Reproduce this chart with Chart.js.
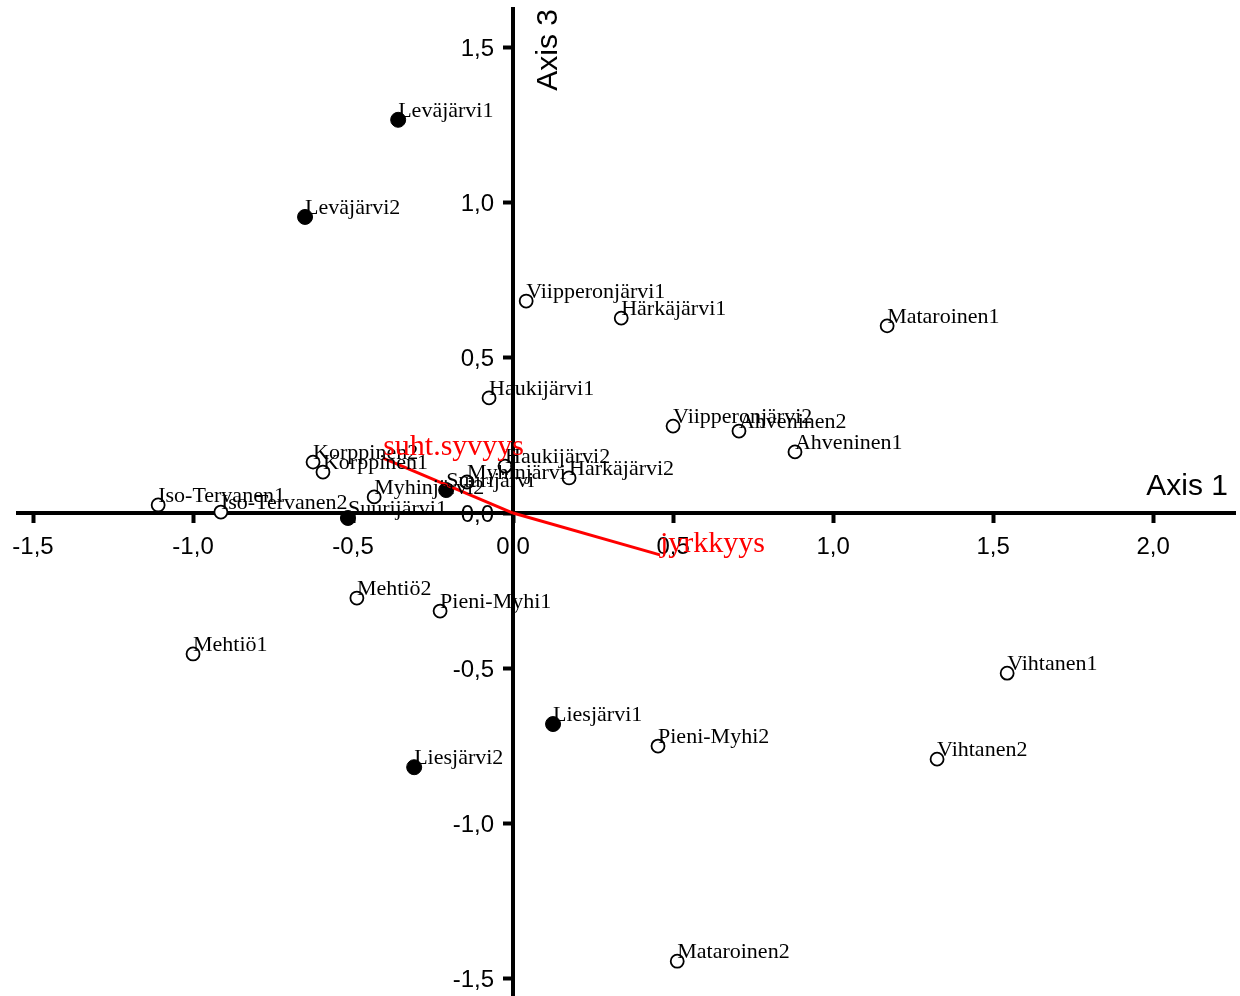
<!DOCTYPE html>
<html>
<head>
<meta charset="utf-8">
<script src="https://cdn.jsdelivr.net/npm/chart.js@4.4.1/dist/chart.umd.min.js"></script>
<style>
  html, body { margin: 0; padding: 0; background: #fff; overflow: hidden; }
  #ordination { display: block; width: 1240px; height: 996px; }
</style>
</head>
<body>
<canvas id="ordination" width="1240" height="996"></canvas>
<script>
// site scores, open symbols
const openSites = ["Viipperonjärvi1", "Härkäjärvi1", "Mataroinen1", "Haukijärvi1", "Viipperonjärvi2",
  "Ahveninen2", "Ahveninen1", "Korppinen2", "Korppinen1", "Haukijärvi2", "Myhinjärvi", "Härkäjärvi2",
  "Myhinjärvi2", "Iso-Tervanen1", "Iso-Tervanen2", "Mehtiö2", "Pieni-Myhi1", "Mehtiö1", "Vihtanen1",
  "Pieni-Myhi2", "Vihtanen2", "Mataroinen2"];
const openAxis1 = [0.041, 0.338, 1.169, -0.075, 0.500, 0.706, 0.881, -0.625, -0.594, -0.025, -0.144, 0.175,
  -0.434, -1.109, -0.913, -0.488, -0.228, -1.000, 1.544, 0.453, 1.325, 0.513];
const openAxis3 = [0.683, 0.628, 0.603, 0.371, 0.280, 0.264, 0.197, 0.164, 0.132, 0.151, 0.100, 0.113,
  0.052, 0.026, 0.003, -0.274, -0.316, -0.454, -0.516, -0.751, -0.793, -1.444];

// site scores, filled symbols
const filledSites = ["Leväjärvi1", "Leväjärvi2", "Suurijärvi", "Suurijärvi1", "Liesjärvi1", "Liesjärvi2"];
const filledAxis1 = [-0.359, -0.650, -0.209, -0.516, 0.125, -0.309];
const filledAxis3 = [1.267, 0.954, 0.074, -0.016, -0.680, -0.819];

// environmental vectors
const vectorNames = ["suht.syvyys", "jyrkkyys"];
const vectorAxis1 = [-0.406, 0.459];
const vectorAxis3 = [0.177, -0.135];

const xTickValues = [-1.5, -1.0, -0.5, 0.0, 0.5, 1.0, 1.5, 2.0];
const yTickValues = [-1.5, -1.0, -0.5, 0.0, 0.5, 1.0, 1.5];

const serif = '"Liberation Serif", "Times New Roman", serif';
const sans = '"Liberation Sans", Arial, sans-serif';
const fmt = v => Number(v).toFixed(1).replace('.', ',');

const toPoints = (xs, ys) => xs.map((v, i) => ({x: v, y: ys[i]}));

const vectorSets = vectorNames.map((name, i) => ({
  label: name,
  data: [{x: 0, y: 0}, {x: vectorAxis1[i], y: vectorAxis3[i]}],
  showLine: true,
  borderColor: '#ff0000',
  borderWidth: 3,
  pointRadius: 0
}));

// names beside the points, vector names, y tick labels and axis titles
const annotations = {
  id: 'annotations',
  afterDatasetsDraw(chart) {
    const {ctx, scales: {x, y}, chartArea} = chart;
    const x0 = x.getPixelForValue(0);
    const y0 = y.getPixelForValue(0);
    ctx.save();
    ctx.textAlign = 'left';
    ctx.textBaseline = 'alphabetic';
    ctx.fillStyle = '#000';
    ctx.font = '22px ' + serif;
    const put = (names, xs, ys) => names.forEach((name, i) => {
      ctx.fillText(name, x.getPixelForValue(xs[i]), y.getPixelForValue(ys[i]) - 3);
    });
    put(openSites, openAxis1, openAxis3);
    put(filledSites, filledAxis1, filledAxis3);

    ctx.fillStyle = '#ff0000';
    ctx.font = '30px ' + serif;
    put(vectorNames, vectorAxis1, vectorAxis3);

    // y labels sit left of the vertical axis
    ctx.fillStyle = '#000';
    ctx.font = '24px ' + sans;
    ctx.textAlign = 'right';
    ctx.textBaseline = 'middle';
    yTickValues.forEach(v => ctx.fillText(fmt(v), x0 - 19, y.getPixelForValue(v) + 2));

    ctx.font = '30px ' + sans;
    ctx.textBaseline = 'alphabetic';
    ctx.fillText('Axis 1', chartArea.right - 7, y0 - 18);

    ctx.translate(x0 + 36, chartArea.top);
    ctx.rotate(-Math.PI / 2);
    ctx.textBaseline = 'middle';
    ctx.fillText('Axis 3', 0, 0);
    ctx.restore();
  }
};

const axisStyle = {
  border: {color: '#000', width: 4},
  grid: {drawOnChartArea: false, drawTicks: true, tickLength: 8, tickWidth: 4, color: '#000'}
};

new Chart(document.getElementById('ordination'), {
  type: 'scatter',
  data: {
    datasets: [
      ...vectorSets,
      {
        label: 'open',
        data: toPoints(openAxis1, openAxis3),
        pointRadius: 6.5,
        pointBorderWidth: 1.8,
        pointBorderColor: '#000',
        pointBackgroundColor: '#fff'
      },
      {
        label: 'filled',
        data: toPoints(filledAxis1, filledAxis3),
        pointRadius: 7.5,
        pointBorderWidth: 1,
        pointBorderColor: '#000',
        pointBackgroundColor: '#000'
      }
    ]
  },
  options: {
    responsive: false,
    animation: false,
    devicePixelRatio: 1,
    // fixed plot edges; the point radius must not widen the margins
    layout: {autoPadding: false, padding: {left: 18, right: 5, top: 9, bottom: 1}},
    plugins: {legend: {display: false}, tooltip: {enabled: false}},
    scales: {
      x: {
        type: 'linear',
        min: -1.547,
        max: 2.256,
        position: {y: 0},
        ...axisStyle,
        afterBuildTicks: axis => { axis.ticks = xTickValues.map(v => ({value: v})); },
        ticks: {color: '#000', font: {family: sans, size: 24}, padding: 12, callback: fmt}
      },
      y: {
        type: 'linear',
        min: -1.553,
        max: 1.624,
        position: {x: 0},
        ...axisStyle,
        afterBuildTicks: axis => { axis.ticks = yTickValues.map(v => ({value: v})); },
        ticks: {display: false, callback: fmt}
      }
    }
  },
  plugins: [annotations]
});
</script>
</body>
</html>
